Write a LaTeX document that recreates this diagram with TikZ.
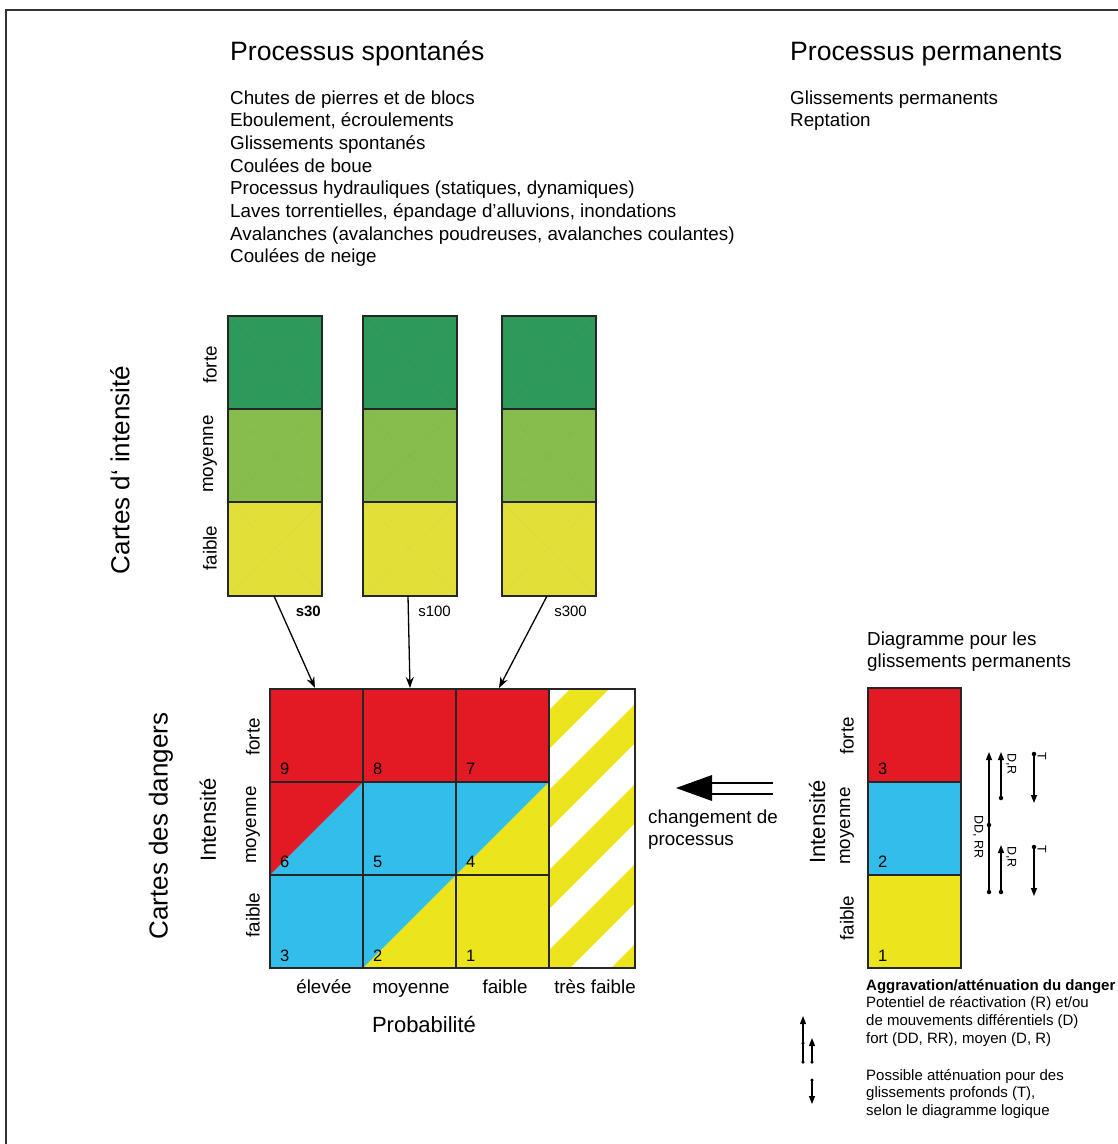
\documentclass[tikz,border=0pt]{standalone}
\usepackage{fontspec}
\setmainfont{Liberation Sans}
\usetikzlibrary{arrows.meta}

\definecolor{ihigh}{RGB}{46,154,90}
\definecolor{imid}{RGB}{134,189,76}
\definecolor{ilow}{RGB}{226,224,56}
\definecolor{dred}{RGB}{227,25,36}
\definecolor{dblue}{RGB}{51,189,234}
\definecolor{dyellow}{RGB}{236,229,30}

\begin{document}
\begin{tikzpicture}[x=1pt,y=-1pt,
    cell/.style={draw=black!85, line width=1.8pt},
    txt/.style={inner sep=0pt, font=\fontsize{18.8}{22}\selectfont},
    big/.style={inner sep=0pt, font=\fontsize{26.6}{32}\selectfont},
    side/.style={inner sep=0pt, rotate=90, font=\fontsize{26}{30}\selectfont},
    axis/.style={inner sep=0pt, rotate=90, font=\fontsize{18.8}{22}\selectfont},
    num/.style={inner sep=0pt, anchor=base west, font=\fontsize{16.5}{18}\selectfont},
    small/.style={inner sep=0pt, font=\fontsize{15}{18}\selectfont},
    tiny/.style={inner sep=0pt, rotate=-90, font=\fontsize{12.5}{15}\selectfont},
    dot/.style={circle, fill=black, inner sep=0pt, minimum size=4.5pt},
    link/.style={line width=1.3pt, -{Stealth[length=11pt,width=8pt]}},
    tip/.style={line width=1.3pt, -{Triangle[length=8pt,width=6pt]}}]
    \useasboundingbox (0,0) rectangle (1118,1144);

    % Frame (cut off at right and bottom)
    \draw[black!80, line width=2pt] (6,1144) -- (6,10) -- (1118,10);

    % Titles and process lists
    \node[big, anchor=base west] (titlesp) at (230,60) {Processus spontanés};
    \node[big, anchor=base west] (titleperm) at (790,60) {Processus permanents};
    \foreach \t [count=\i] in {{Chutes de pierres et de blocs}, {Eboulement, écroulements},
        {Glissements spontanés}, {Coulées de boue}, {Processus hydrauliques (statiques, dynamiques)},
        {Laves torrentielles, épandage d’alluvions, inondations},
        {Avalanches (avalanches poudreuses, avalanches coulantes)}, {Coulées de neige}}
        \node[txt, anchor=base west] (sp\i) at (230,81.3+22.7*\i) {\t};
    \node[txt, anchor=base west] (perm1) at (790,104) {Glissements permanents};
    \node[txt, anchor=base west] (perm2) at (790,126.7) {Reptation};

    % Intensity maps
    \foreach \x in {228,363,502} {
        \fill[ihigh] (\x,316) rectangle ++(94,93);
        \fill[imid] (\x,409) rectangle ++(94,93);
        \fill[ilow] (\x,502) rectangle ++(94,94);
        \foreach \y in {316,409,502}
            \draw[black, opacity=0.035] (\x,\y) -- ++(94,93) (\x+94,\y) -- ++(-94,93);
        \draw[cell] (\x,316) rectangle ++(94,280);
        \draw[cell] (\x,409) -- ++(94,0) (\x,502) -- ++(94,0);
    }
    \node[axis] (iforte) at (210,365) {forte};
    \node[axis] (imoy) at (210,454) {moyenne};
    \node[axis] (ifaib) at (210,548) {faible};
    \node[side] (cartesint) at (120,470) {Cartes d‘ intensité};
    \node[small, anchor=base east, font=\fontsize{15}{18}\bfseries] (s30) at (321,616) {s30};
    \node[small, anchor=base east] (s100) at (451,616) {s100};
    \node[small, anchor=base east] (s300) at (587,616) {s300};

    % Links from the maps to the danger matrix
    \coordinate (out1) at (274,596);
    \coordinate (out2) at (408,596);
    \coordinate (out3) at (547,596);
    \coordinate (in1) at (315,688);
    \coordinate (in2) at (410,688);
    \coordinate (in3) at (499,688);
    \foreach \i in {1,2,3}
        \draw[link] (out\i) -- (in\i);

    % Danger matrix
    \fill[dred] (270,689) rectangle (549,782);
    \fill[dred] (270,782) rectangle (363,875);
    \fill[dblue] (270,875) -- (363,782) -- (363,875) -- cycle;
    \fill[dblue] (363,782) rectangle (549,875);
    \fill[dyellow] (456,875) -- (549,782) -- (549,875) -- cycle;
    \fill[dblue] (270,875) rectangle (456,968);
    \fill[dyellow] (363,968) -- (456,875) -- (456,968) -- cycle;
    \fill[dyellow] (456,875) rectangle (549,968);
    \begin{scope}
        \clip (549,689) rectangle (635,968);
        \foreach \c in {1179,1259,1339,1419,1499,1579}
            \fill[dyellow] (549,\c-549) -- (635,\c-635) -- (635,\c+39-635) -- (549,\c+39-549) -- cycle;
    \end{scope}
    \draw[cell] (270,689) rectangle (635,968);
    \draw[cell] (363,689) -- (363,968) (456,689) -- (456,968) (549,689) -- (549,968);
    \draw[cell] (270,782) -- (549,782) (270,875) -- (549,875);
    \foreach \x/\y/\n in {280/774/9, 373/774/8, 466/774/7, 280/867/6, 373/867/5, 466/867/4,
        280/961/3, 373/961/2, 466/961/1}
        \node[num] (n\n) at (\x,\y) {\n};

    \node[axis] (dforte) at (253,737) {forte};
    \node[axis] (dmoy) at (253,825) {moyenne};
    \node[axis] (dfaib) at (253,915) {faible};
    \node[inner sep=0pt, rotate=90, font=\fontsize{22}{26}\selectfont] (dint) at (208,820) {Intensité};
    \node[side] (cartesdang) at (161,826) {Cartes des dangers};
    \node[txt, anchor=base] (pel) at (324,993) {élevée};
    \node[txt, anchor=base] (pmoy) at (411,993) {moyenne};
    \node[txt, anchor=base] (pfai) at (505,993) {faible};
    \node[txt, anchor=base] (ptf) at (595,993) {très faible};
    \node[inner sep=0pt, anchor=base, font=\fontsize{22}{26}\selectfont] (prob) at (424,1032) {Probabilité};

    % Change of process
    \coordinate (chgtip) at (676,788);
    \fill[black] (chgtip) -- (712,775) -- (712,801) -- cycle;
    \draw[line width=2.2pt] (712,783) -- (773,783) (712,794) -- (773,794);
    \node[txt, anchor=base west] (chg1) at (648,823) {changement de};
    \node[txt, anchor=base west] (chg2) at (648,845.7) {processus};

    % Diagram for permanent slides
    \node[txt, anchor=base west] (diag1) at (867,645) {Diagramme pour les};
    \node[txt, anchor=base west] (diag2) at (867,667.7) {glissements permanents};
    \fill[dred] (868,688) rectangle (961,782);
    \fill[dblue] (868,782) rectangle (961,875);
    \fill[dyellow] (868,875) rectangle (961,968);
    \draw[cell] (868,688) rectangle (961,968);
    \draw[cell] (868,782) -- (961,782) (868,875) -- (961,875);
    \node[num] (g3) at (878,774) {3};
    \node[num] (g2) at (878,867) {2};
    \node[num] (g1) at (878,961) {1};
    \node[axis] (gforte) at (847,736) {forte};
    \node[axis] (gmoy) at (847,826) {moyenne};
    \node[axis] (gfaib) at (847,918) {faible};
    \node[inner sep=0pt, rotate=90, font=\fontsize{22}{26}\selectfont] (gint) at (817,822) {Intensité};

    % Aggravation / mitigation arrows
    \node[dot] (ddbot) at (989,892) {};
    \node[dot] (ddmid) at (989,825) {};
    \coordinate (ddtop) at (989,752);
    \draw[tip] (ddbot) -- (ddtop);
    \node[dot] (drabot) at (1001,798) {};
    \coordinate (dratop) at (1001,752);
    \draw[tip] (drabot) -- (dratop);
    \node[dot] (drbbot) at (1001,892) {};
    \coordinate (drbtop) at (1001,845);
    \draw[tip] (drbbot) -- (drbtop);
    \node[dot] (tatop) at (1034,754) {};
    \coordinate (tabot) at (1034,803);
    \draw[tip] (tatop) -- (tabot);
    \node[dot] (tbtop) at (1034,847) {};
    \coordinate (tbbot) at (1034,896);
    \draw[tip] (tbtop) -- (tbbot);
    \node[tiny] (ldd) at (978,837) {DD, RR};
    \node[tiny] (ldra) at (1011,764) {D,R};
    \node[tiny] (ldrb) at (1011,857) {D,R};
    \node[tiny] (lta) at (1042,756) {T};
    \node[tiny] (ltb) at (1042,849) {T};

    % Legend
    \node[small, anchor=base west, font=\fontsize{15}{18}\bfseries] (leg0) at (866,990) {Aggravation/atténuation du danger};
    \foreach \t/\y [count=\i] in {{Potentiel de réactivation (R) et/ou}/1007.7, {de mouvements différentiels (D)}/1025.4,
        {fort (DD, RR), moyen (D, R)}/1043.1, {Possible atténuation pour des}/1080,
        {glissements profonds (T),}/1097.7, {selon le diagramme logique}/1115.4}
        \node[small, anchor=base west] (leg\i) at (866,\y) {\t};
    \node[dot, minimum size=3.5pt] (kbot1) at (803,1062) {};
    \node[dot, minimum size=3.5pt] (kmid1) at (803,1043) {};
    \coordinate (ktop1) at (803,1016);
    \draw[tip] (kbot1.center) -- (ktop1);
    \node[dot, minimum size=3.5pt] (kbot2) at (812,1062) {};
    \coordinate (ktop2) at (812,1038);
    \draw[tip] (kbot2.center) -- (ktop2);
    \node[dot, minimum size=3.5pt] (ktop3) at (812,1080) {};
    \coordinate (kbot3) at (812,1104);
    \draw[tip] (ktop3.center) -- (kbot3);
\end{tikzpicture}
\end{document}
